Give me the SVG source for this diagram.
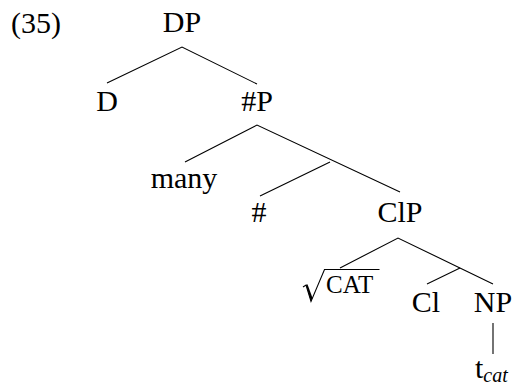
<svg xmlns="http://www.w3.org/2000/svg" width="514" height="387" viewBox="0 0 514 387">
<style>
text{font-family:'Liberation Serif',serif;font-size:30px;fill:#000}
.m{text-anchor:middle}
.e{stroke:#000;stroke-width:1.1;fill:none}
</style>
<rect width="514" height="387" fill="#fff"/>
<text x="11" y="33">(35)</text>
<g id="DP"><text class="m" x="182" y="32">DP</text></g>
<g id="D"><text class="m" x="107" y="111">D</text></g>
<g id="sharpP"><text class="m" x="257" y="111">#P</text></g>
<g id="many"><text class="m" x="184" y="188">many</text></g>
<g id="sharp"><text class="m" x="259" y="222">#</text></g>
<g id="ClP"><text class="m" x="400" y="222">ClP</text></g>
<g id="CAT">
<path class="e" d="M303,287 L306,285 L311,301.5 L324.5,269.5 L379.5,269.5"/>
<path d="M306,285 L311,301.5 L312.5,298 L307.5,284.2 Z" fill="#000"/>
<text x="326" y="293" style="font-size:25px">CAT</text>
</g>
<g id="Cl"><text class="m" x="426" y="312">Cl</text></g>
<g id="NP"><text class="m" x="493" y="312">NP</text></g>
<g id="tcat"><text x="475" y="378">t<tspan style="font-size:20px;font-style:italic" dy="4">cat</tspan></text></g>
<g id="connectors">
<path class="e" d="M107,83 L182,47 L257,84"/>
<path class="e" d="M185,162 L257,125 L400,192"/>
<path class="e" d="M330,162 L260,196"/>
<path class="e" d="M340,268 L398,238 L493,284"/>
<path class="e" d="M460,268 L427,284"/>
<path class="e" d="M493,323 L493,354"/>
</g>
</svg>
